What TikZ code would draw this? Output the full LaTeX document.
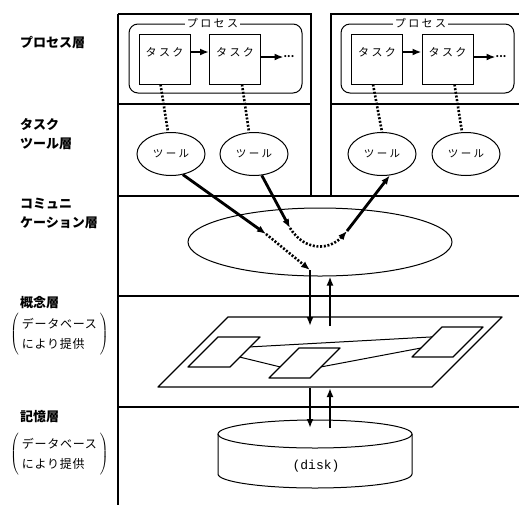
\documentclass[tikz,border=0pt]{standalone}
\usepackage{fontspec}
\newfontfamily\jp{Noto Sans CJK JP}
\newfontfamily\dskfont{Liberation Mono}
\usepackage{tikz}
\usetikzlibrary{arrows.meta,shapes.geometric,calc}
\tikzset{
  layer/.style={line width=1.1pt},
  proc/.style={draw, line width=1pt, rounded corners=9pt, minimum width=173pt, minimum height=69pt},
  proctitle/.style={fill=white, inner sep=2pt, font=\jp\fontsize{11}{12}\selectfont},
  tsk/.style={draw, line width=1pt, minimum width=51pt, minimum height=50pt, inner sep=0pt,
              text depth=13pt, font=\jp\fontsize{11}{12}\selectfont},
  tool/.style={draw, ellipse, line width=1pt, minimum width=68pt, minimum height=43pt,
               inner sep=0pt, font=\jp\fontsize{10.5}{12}\selectfont},
  more/.style={inner sep=0pt, font=\jp\bfseries\fontsize{10}{12}\selectfont},
  lyr/.style={anchor=west, align=left, inner sep=0pt, font=\jp\bfseries\fontsize{13}{19}\selectfont},
  dbnote/.style={anchor=west, inner sep=0pt, font=\jp\fontsize{12}{20}\selectfont\addfontfeature{LetterSpace=6}},
  flow/.style={line width=2.8pt, ->},
  dots/.style={line width=2.6pt, dash pattern=on 2pt off 1.7pt},
  dflow/.style={dots, ->},
  slabline/.style={line width=1.3pt, line join=round},
  link/.style={line width=1pt},
}
\newcommand{\slab}[4]{%
  \coordinate (#1-bl) at (#2);
  \coordinate (#1-br) at ($(#2)+(#3,0)$);
  \coordinate (#1-tr) at ($(#2)+(#3+#4,-#4)$);
  \coordinate (#1-tl) at ($(#2)+(#4,-#4)$);
  \draw[slabline] (#1-bl) -- (#1-br) -- (#1-tr) -- (#1-tl) -- cycle;
}
\begin{document}
\begin{tikzpicture}[x=1pt, y=-1pt, font=\jp, >={Latex[length=9pt,width=7pt]}]
    \useasboundingbox (0,0) rectangle (519,507);
    \draw[layer] (118,14) -- (311,14) -- (311,196);
    \draw[layer] (519,14) -- (331,14) -- (331,196);
    \draw[layer] (118,104) -- (311,104) (331,104) -- (519,104);
    \draw[layer] (118,196) -- (519,196);
    \draw[layer] (118,407) -- (519,407);
    \draw[layer] (118,14) -- (118,296);
    \draw[line width=2.2pt] (118,296) -- (519,296) (118,296) -- (118,505);

    \node[lyr] (lyP) at (20,42) {プロセス層};
    \node[lyr] (lyT) at (20,134) {タスク\\ツール層};
    \node[lyr] (lyC) at (20,213) {コミュニ\\ケーション層};
    \node[lyr] (lyK) at (20,303) {概念層};
    \node[dbnote] (dbK) at (10,334) {$\left(\hspace{3pt}\begin{tabular}{@{}l@{}}データベース\\により提供\end{tabular}\hspace{3pt}\right)$};
    \node[lyr] (lyM) at (20,417) {記憶層};
    \node[dbnote] (dbM) at (10,454) {$\left(\hspace{3pt}\begin{tabular}{@{}l@{}}データベース\\により提供\end{tabular}\hspace{3pt}\right)$};

    \node[proc] (pA) at (215.5,58.5) {};
    \node[proctitle] (ttlA) at ([xshift=-3pt]pA.north) {プ ロ セ ス};
    \node[proc] (pB) at (427.5,58.5) {};
    \node[proctitle] (ttlB) at ([xshift=-7pt]pB.north) {プ ロ セ ス};

    \node[tsk] (tA1) at (164.5,59) {タ ス ク};
    \node[tsk] (tA2) at (235,59) {タ ス ク};
    \node[more] (dA) at (289,57) {...};
    \node[tsk] (tB1) at (377,59) {タ ス ク};
    \node[tsk] (tB2) at (447.5,59) {タ ス ク};
    \node[more] (dB) at (501,57) {...};
    \draw[flow, line width=2.4pt] ([yshift=7pt]tA1.east) -- ([yshift=7pt]tA2.west);
    \draw[flow, line width=2.4pt] ([yshift=2pt]tA2.east) -- (dA.west);
    \draw[flow, line width=2.4pt] ([yshift=7pt]tB1.east) -- ([yshift=7pt]tB2.west);
    \draw[flow, line width=2.4pt] ([yshift=2pt]tB2.east) -- (dB.west);

    \node[tool] (lA1) at (171,154) {ツ ー ル};
    \node[tool] (lA2) at (254,154) {ツ ー ル};
    \node[tool] (lB1) at (382,154) {ツ ー ル};
    \node[tool] (lB2) at (466,154) {ツ ー ル};
    \draw[dots] ([xshift=-4pt]tA1.south) -- ([xshift=-3pt]lA1.north);
    \draw[dots] ([xshift=7pt]tA2.south) -- ([xshift=-5pt]lA2.north);
    \draw[dots] ([xshift=-4pt]tB1.south) -- (lB1.north);
    \draw[dots] ([xshift=7pt]tB2.south) -- ([xshift=-4pt]lB2.north);

    \node[draw, ellipse, line width=1pt, minimum width=264pt, minimum height=68pt] (cm) at (320,242) {};
    \coordinate (c1) at (266,234);
    \coordinate (c2) at (310,270);
    \coordinate (c4) at (290,228);
    \coordinate (c5) at (347,231);
    \draw[flow] (lA1.-60) -- (c1);
    \draw[dflow] (c1) -- (c2);
    \draw[flow] (lA2.-70) -- (c4);
    \draw[dflow] (c4) .. controls (305,252) and (330,250) .. (c5);
    \draw[flow] (c5) -- (lB1.-70);

    \slab{pl}{158,387}{274}{70}
    \slab{ea}{188,367}{42}{30}
    \slab{eb}{269,378}{41}{30}
    \slab{ec}{412,357}{41}{30}
    \draw[link] ($(ea-br)!.67!(ea-tr)$) -- ($(ec-bl)!.67!(ec-tl)$);
    \draw[link] ($(ea-br)!.33!(ea-tr)$) -- ($(eb-bl)!.37!(eb-tl)$);
    \draw[link] ($(eb-br)!.37!(eb-tr)$) -- ($(ec-bl)!.3!(ec-tl)$);

    \draw[line width=1pt] (315,434) ellipse [x radius=97pt, y radius=14pt];
    \draw[line width=1pt] (218,434) -- (218,474)
        arc[start angle=180, end angle=360, x radius=97pt, y radius=14pt] -- (412,434);
    \node[inner sep=0pt, font=\dskfont\fontsize{13}{15}\selectfont] (dsk) at (316,466) {(disk)};

    \coordinate (plDn) at (310,326);
    \coordinate (plUp) at (330,326);
    \coordinate (plDn2) at (310,388);
    \coordinate (plUp2) at (330,388);
    \coordinate (dkDn) at (310,428);
    \coordinate (dkUp) at (330,428);
    \draw[flow] (c2) -- (plDn);
    \draw[flow] (plUp) -- ([xshift=10pt]cm.south);
    \draw[flow] (plDn2) -- (dkDn);
    \draw[flow] (dkUp) -- (plUp2);
\end{tikzpicture}
\end{document}
